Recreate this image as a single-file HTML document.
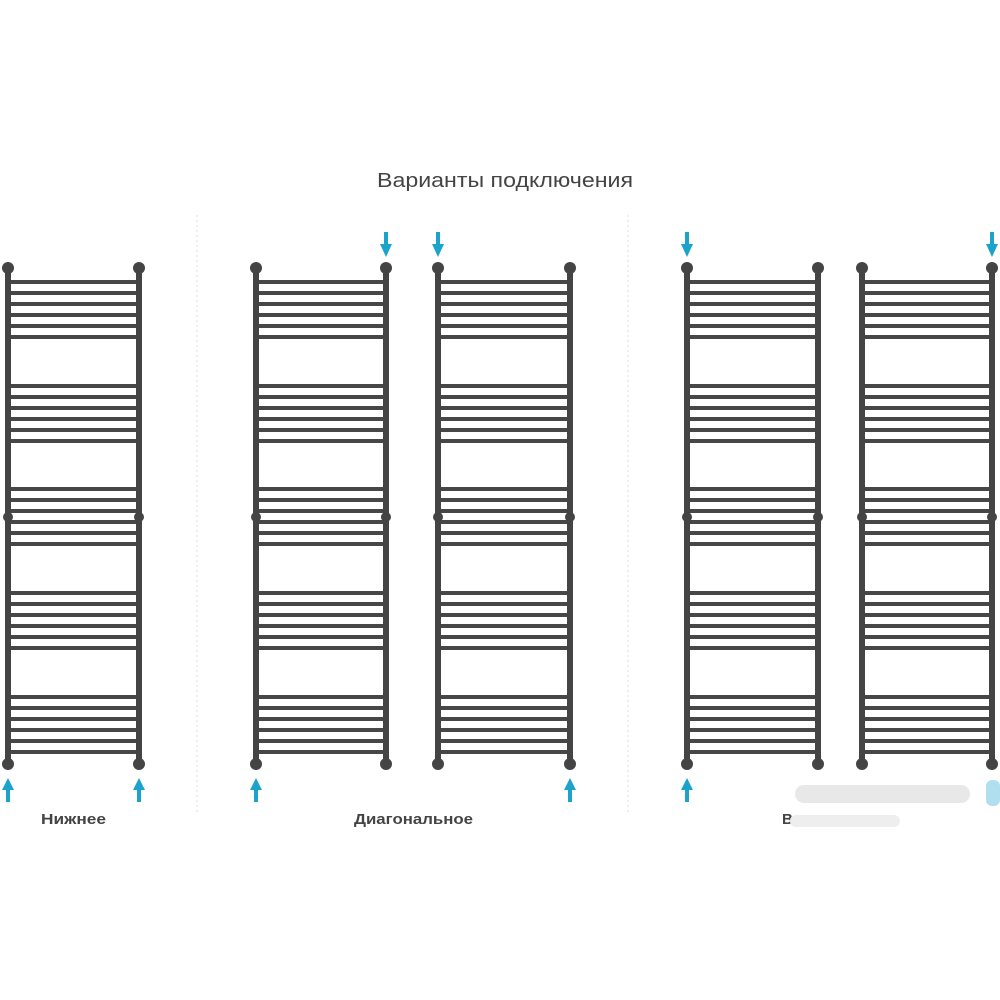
<!DOCTYPE html>
<html><head><meta charset="utf-8"><style>
html,body{margin:0;padding:0;background:#fff;width:1000px;height:1000px;overflow:hidden}
svg{display:block}
text{font-family:"Liberation Sans",sans-serif;fill:#444}
</style></head><body>
<svg id="s" width="1000" height="1000" viewBox="0 0 1000 1000" xmlns="http://www.w3.org/2000/svg">
<text x="377" y="187" font-size="20" textLength="256" lengthAdjust="spacingAndGlyphs">Варианты подключения</text>
<line x1="197" y1="215" x2="197" y2="815" stroke="#ddd" stroke-width="1" stroke-dasharray="2 3"/>
<line x1="628" y1="215" x2="628" y2="815" stroke="#ddd" stroke-width="1" stroke-dasharray="2 3"/>
<text x="41" y="824" font-size="15" font-weight="bold" fill="#555" textLength="65" lengthAdjust="spacingAndGlyphs">Нижнее</text>
<text x="354" y="824" font-size="15" font-weight="bold" fill="#555" textLength="119" lengthAdjust="spacingAndGlyphs">Диагональное</text>
<text x="782" y="824" font-size="15" font-weight="bold" fill="#555">В</text>
<rect x="795" y="785" width="175" height="18" rx="9" fill="#e2e2e2" opacity="0.8"/>
<rect x="790" y="815" width="110" height="12" rx="6" fill="#eee"/>
<rect x="986" y="780" width="14" height="26" rx="6" fill="#8fd3e8" opacity="0.7"/>
<g id="t"></g>
</svg>
<script>
var g=document.getElementById('t'),h='';
var towels=[[8,139],[256,386],[438,570],[687,818],[862,992]];
var groups=[282,386,489,593,697];
towels.forEach(function(p){
 var a=p[0],b=p[1];
 groups.forEach(function(y0){for(var i=0;i<6;i++){var y=y0+i*11;h+='<rect x="'+a+'" y="'+(y-2)+'" width="'+(b-a)+'" height="4" fill="#474747"/>';}});
 [a,b].forEach(function(x){
  h+='<rect x="'+(x-3)+'" y="266" width="6" height="500" fill="#444"/>';
  [268,517,764].forEach(function(y){h+='<circle cx="'+x+'" cy="'+y+'" r="'+(y==517?5:6)+'" fill="#444"/>';});
 });
});
function down(x){h+='<rect x="'+(x-2)+'" y="232" width="4" height="13" fill="#1ba3cc"/><polygon points="'+(x-6)+',244 '+(x+6)+',244 '+x+',257" fill="#1ba3cc"/>';}
function up(x){h+='<rect x="'+(x-2)+'" y="789" width="4" height="13" fill="#1ba3cc"/><polygon points="'+(x-6)+',790 '+(x+6)+',790 '+x+',778" fill="#1ba3cc"/>';}
down(386);down(438);down(687);down(992);
up(8);up(139);up(256);up(570);up(687);
g.innerHTML=h;
</script>
</body></html>
